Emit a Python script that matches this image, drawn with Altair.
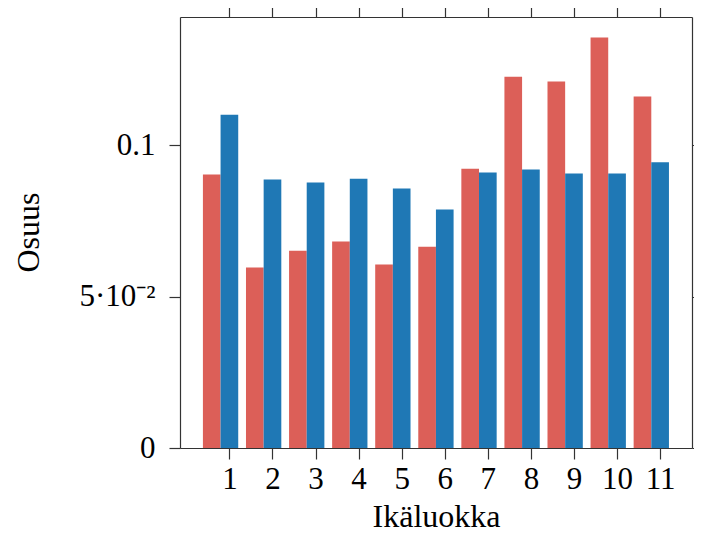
import altair as alt
import pandas as pd

categories = [1, 2, 3, 4, 5, 6, 7, 8, 9, 10, 11]
series_a = [0.0904, 0.0596, 0.0652, 0.0682, 0.0606, 0.0665, 0.0923, 0.1227, 0.1211, 0.1356, 0.1161]
series_b = [0.1101, 0.0887, 0.0877, 0.0890, 0.0857, 0.0788, 0.0910, 0.0920, 0.0907, 0.0907, 0.0944]
series_names = ["A", "B"]
y_ticks = [0, 0.05, 0.1]

rows = []
for c, a, b in zip(categories, series_a, series_b):
    rows.append({"cat": c, "series": "A", "value": a, "shift": -0.41})
    rows.append({"cat": c, "series": "B", "value": b, "shift": 0.0})
df = pd.DataFrame(rows)

FONT = "Liberation Serif"
AX = "#333333"

xscale = alt.Scale(domain=[-0.147, 11.74], nice=False, zero=False)
yscale = alt.Scale(domain=[0, 0.1424], nice=False, zero=True)
color = alt.Color("series:N", scale=alt.Scale(domain=series_names, range=["#dc5f58", "#1f78b5"]), legend=None)

base = alt.Chart(df).transform_calculate(
    x0="datum.cat + datum.shift - 0.205",
    x1="datum.cat + datum.shift + 0.205",
)

label_expr = "datum.value == 0 ? '0' : (abs(datum.value - 0.05) < 1e-9 ? '5·10⁻²' : '0.1')"

bars = base.mark_bar().encode(
    x=alt.X("x0:Q", scale=xscale, axis=alt.Axis(
        values=categories, orient="bottom", title="Ikäluokka", grid=False,
        tickSize=11, labelPadding=29, labelBaseline="alphabetic",
        labelFontSize=31, labelFont=FONT, labelColor="black",
        titleFont=FONT, titleFontSize=32, titleFontWeight="normal", titleColor="black",
        titleY=78, titleBaseline="alphabetic",
        domainColor=AX, tickColor=AX, domainWidth=1.2, tickWidth=1.2)),
    x2="x1:Q",
    y=alt.Y("value:Q", scale=yscale, axis=alt.Axis(
        values=y_ticks, orient="left", title="Osuus", grid=False,
        tickSize=11, labelPadding=14, labelExpr=label_expr,
        labelFontSize=31, labelFont=FONT, labelColor="black",
        titleFont=FONT, titleFontSize=32, titleFontWeight="normal", titleColor="black",
        titleAngle=270, titleX=-142, titleY=215, titleBaseline="alphabetic", titleAlign="center",
        domainColor=AX, tickColor=AX, domainWidth=1.2, tickWidth=1.2)),
    y2=alt.datum(0),
    color=color,
)

mirror = base.mark_bar(opacity=0).encode(
    x=alt.X("x0:Q", scale=xscale, axis=alt.Axis(
        values=categories, orient="top", title=None, labels=False, grid=False,
        tickSize=11, domainColor=AX, tickColor=AX, domainWidth=1.2, tickWidth=1.2)),
    x2="x1:Q",
    y=alt.Y("value:Q", scale=yscale, axis=alt.Axis(
        values=y_ticks, orient="right", title=None, labels=False, grid=False,
        tickSize=11, domainColor=AX, tickColor=AX, domainWidth=1.2, tickWidth=1.2)),
    y2=alt.datum(0),
)

chart = alt.layer(bars, mirror).resolve_axis(x="independent", y="independent").properties(
    width=512, height=431,
    autosize=alt.AutoSizeParams(type="none"),
    padding={"left": 172, "top": 9, "right": 2, "bottom": 86},
).configure_view(stroke=None)

chart.save("out.html", embed_options={"renderer": "svg", "actions": False})
